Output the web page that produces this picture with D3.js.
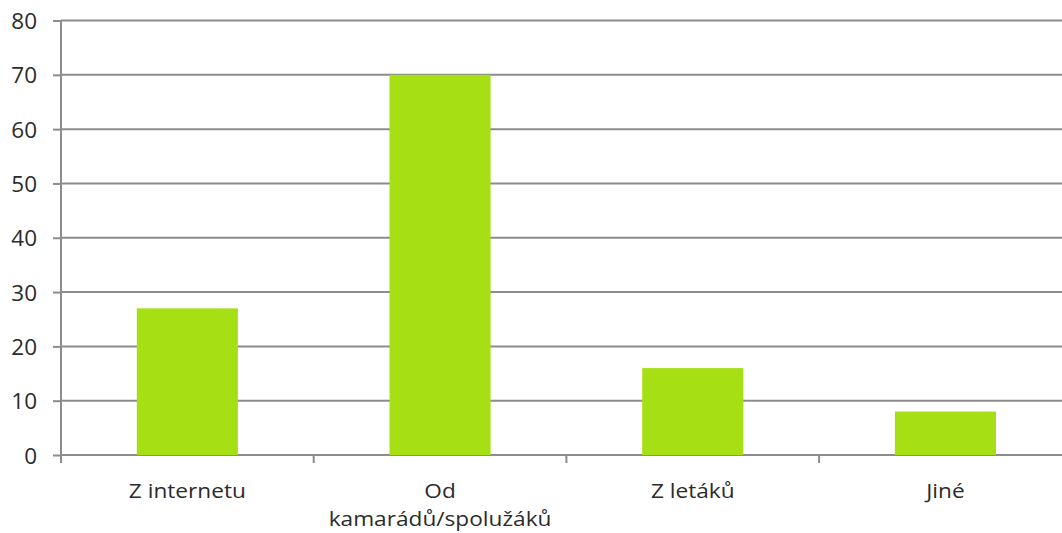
<!DOCTYPE html>
<html>
<head>
<meta charset="utf-8">
<script src="https://cdn.jsdelivr.net/npm/d3@7/dist/d3.min.js"></script>
<style>
  html, body { margin: 0; padding: 0; background: #fff; }
  svg { display: block; }
  text { font-family: "Open Sans", "Noto Sans", sans-serif; fill: #2b2b2b; }
</style>
</head>
<body>
<svg id="chart" width="1062" height="533"></svg>
<script>
// Odkud se respondenti dozvěděli
const categories = ["Z internetu", "Od kamarádů/spolužáků", "Z letáků", "Jiné"];
const categoryLines = [["Z internetu"], ["Od", "kamarádů/spolužáků"], ["Z letáků"], ["Jiné"]];
const values = [27, 70, 16, 8];
const yTicks = [0, 10, 20, 30, 40, 50, 60, 70, 80];

const svg = d3.select("#chart");
const margin = { left: 61, top: 20.5, bottom: 455 };
const plotRight = 61 + 4 * 252.7;

const x = d3.scaleBand()
  .domain(categories)
  .range([margin.left, plotRight])
  .paddingInner(0.6)
  .paddingOuter(0.3);

const y = d3.scaleLinear()
  .domain([0, 80])
  .range([margin.bottom, margin.top]);

const gridColor = "#8c8c8c";

// horizontal gridlines
svg.append("g")
  .selectAll("line")
  .data(yTicks)
  .join("line")
  .attr("x1", margin.left)
  .attr("x2", 1062)
  .attr("y1", d => y(d))
  .attr("y2", d => y(d))
  .attr("stroke", gridColor)
  .attr("stroke-width", 2);

// bars
svg.append("g")
  .selectAll("rect")
  .data(values)
  .join("rect")
  .attr("x", (d, i) => x(categories[i]))
  .attr("width", x.bandwidth())
  .attr("y", d => y(d))
  .attr("height", d => y(0) - y(d))
  .attr("fill", "#a6df13");

// y axis
const yAxis = svg.append("g")
  .attr("transform", `translate(${margin.left},0)`)
  .call(d3.axisLeft(y).tickValues(yTicks).tickSize(8).tickPadding(16).tickFormat(d3.format("d")));
yAxis.select(".domain").attr("stroke", gridColor).attr("stroke-width", 2)
  .attr("d", `M0,${y(0)}V${y(80)}`);
yAxis.selectAll(".tick line").attr("stroke", gridColor).attr("stroke-width", 2);
yAxis.selectAll(".tick text").attr("font-size", 22.5).attr("dy", "0.36em")
  .style("font-family", "'Open Sans', sans-serif").attr("fill", "#2b2b2b");

// x axis category separators
const boundaries = d3.range(0, categories.length).map(i => margin.left + i * x.step());
svg.append("g")
  .selectAll("line")
  .data(boundaries)
  .join("line")
  .attr("x1", d => d).attr("x2", d => d)
  .attr("y1", y(0)).attr("y2", y(0) + 8)
  .attr("stroke", gridColor)
  .attr("stroke-width", 2);

// category labels (slightly widened type)
const labelGroups = svg.append("g")
  .selectAll("g")
  .data(categories)
  .join("g")
  .attr("transform", d => `translate(${x(d) + x.bandwidth() / 2},0) scale(1.18,1)`);
labelGroups.append("text")
  .attr("text-anchor", "middle")
  .attr("font-size", 19.2)
  .attr("y", 497.7)
  .selectAll("tspan")
  .data((d, i) => categoryLines[i])
  .join("tspan")
  .attr("x", 0)
  .attr("dy", (d, i) => i === 0 ? 0 : 28)
  .text(d => d);
</script>
</body>
</html>
